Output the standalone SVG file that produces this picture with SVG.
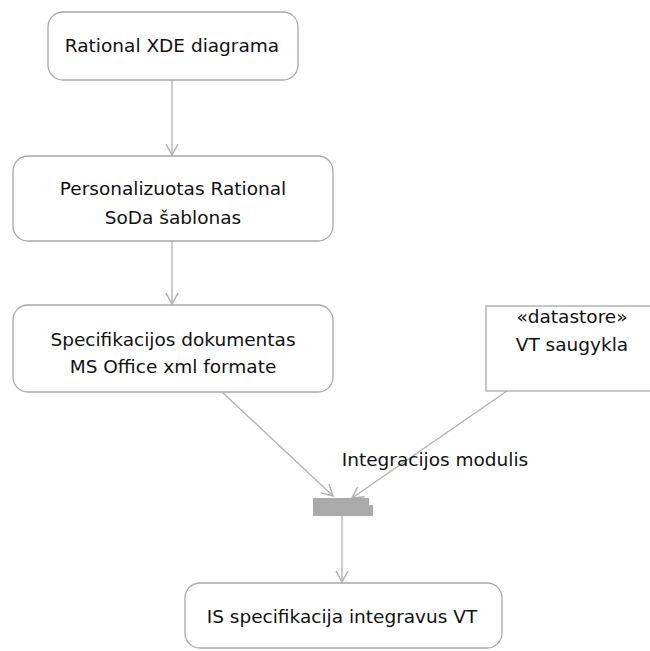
<svg xmlns="http://www.w3.org/2000/svg" width="650" height="651" viewBox="0 0 650 651">
<style>
.box{fill:#fff;stroke:#a8a8a8;stroke-width:1.3}
.t{font-family:"DejaVu Sans","Liberation Sans",sans-serif;font-size:18.5px;fill:#111;text-anchor:middle}
.c{stroke:#b0b0b0;stroke-width:1.3;fill:none}
</style>
<defs>
<marker id="a" markerWidth="14" markerHeight="14" refX="12" refY="7" orient="auto" markerUnits="userSpaceOnUse">
<path d="M1,1 L12,7 L1,13" fill="none" stroke="#b0b0b0" stroke-width="1.5"/>
</marker>
</defs>
<rect width="650" height="651" fill="#fff"/>
<g id="connectors">
<line class="c" x1="172" y1="80" x2="172" y2="155" marker-end="url(#a)"/>
<line class="c" x1="172" y1="241" x2="172" y2="304" marker-end="url(#a)"/>
<line class="c" x1="222" y1="392" x2="333" y2="496" marker-end="url(#a)"/>
<line class="c" x1="507" y1="391" x2="352" y2="498" marker-end="url(#a)"/>
<line class="c" x1="342" y1="516" x2="342" y2="582" marker-end="url(#a)"/>
</g>
<g id="n1">
<rect class="box" x="48" y="12" width="250" height="68" rx="15"/>
<text class="t" x="172" y="52">Rational XDE diagrama</text>
</g>
<g id="n2">
<rect class="box" x="13" y="156" width="320" height="85" rx="15"/>
<text class="t" x="173" y="195">Personalizuotas Rational</text>
<text class="t" x="173" y="224">SoDa šablonas</text>
</g>
<g id="n3">
<rect class="box" x="13" y="305" width="320" height="87" rx="15"/>
<text class="t" x="173" y="346">Specifikacijos dokumentas</text>
<text class="t" x="173" y="373">MS Office xml formate</text>
</g>
<g id="n4">
<rect class="box" x="486" y="306" width="170" height="85"/>
<text class="t" x="572" y="323">«datastore»</text>
<text class="t" x="572" y="351">VT saugykla</text>
</g>
<g id="n5">
<path d="M313,498 H369 V505 H373 V516 H313 Z" fill="#aaaaaa"/>
<text class="t" x="435" y="466">Integracijos modulis</text>
</g>
<g id="n6">
<rect class="box" x="185" y="583" width="317" height="65" rx="15"/>
<text class="t" x="342" y="623">IS specifikacija integravus VT</text>
</g>
</svg>
